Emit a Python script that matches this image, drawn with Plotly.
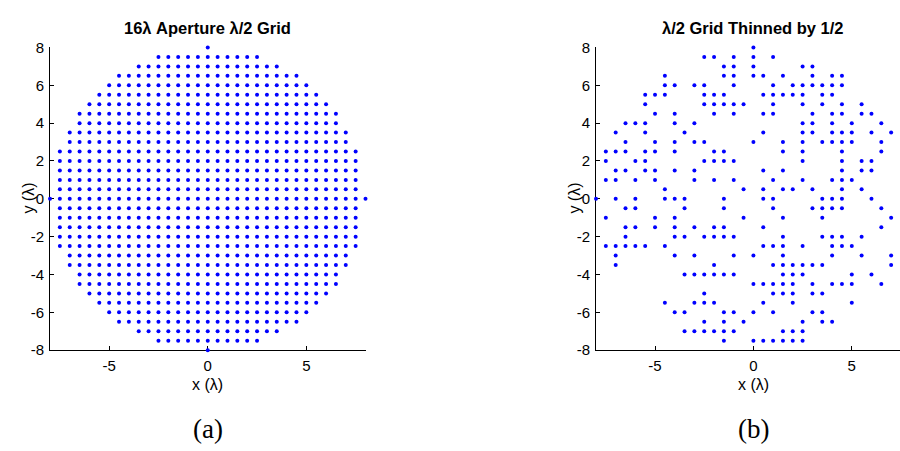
import plotly.graph_objects as go

# ---- (a) full lambda/2 grid inside a 16-lambda aperture ----
# each row of the grid: its y position and the half-width (largest |x|) of the row
grid_rows_y = [8, 7.5, 7, 6.5, 6, 5.5, 5, 4.5, 4, 3.5, 3, 2.5, 2, 1.5, 1, 0.5, 0,
               -0.5, -1, -1.5, -2, -2.5, -3, -3.5, -4, -4.5, -5, -5.5, -6, -6.5, -7, -7.5, -8]
grid_half_width = [0, 2.5, 3.5, 4.5, 5, 5.5, 6, 6.5, 6.5, 7, 7, 7.5, 7.5, 7.5, 7.5, 7.5, 8,
                   7.5, 7.5, 7.5, 7.5, 7.5, 7, 7, 6.5, 6.5, 6, 5.5, 5, 4.5, 3.5, 2.5, 0]
grid_pitch = 0.5

# ---- (b) the same grid thinned by one half: surviving elements per row ----
thin_rows_y = [8, 7.5, 7, 6.5, 6, 5.5, 5, 4.5, 4, 3.5, 3, 2.5, 2, 1.5, 1, 0.5, 0,
               -0.5, -1, -1.5, -2, -2.5, -3, -3.5, -4, -4.5, -5, -5.5, -6, -6.5, -7, -7.5]
thin_rows_x = [
    [0],
    [-2.5, -2, -1, 0, 1],
    [-1.5, -1, 0, 2.5, 3],
    [-4.5, -1.5, -1, 0, 0.5, 1.5, 3, 4, 4.5],
    [-4.5, -4, -3, -2.5, -1, 1, 2, 2.5, 3, 3.5, 4, 4.5],
    [-5.5, -5, -4.5, -2.5, -2, -1.5, 0.5, 1, 1.5, 2, 2.5, 3.5, 4],
    [-5.5, -2.5, -2, -1.5, -1, -0.5, 1, 2.5, 3.5, 4.5, 5.5],
    [-5, -4, -2, -1, 0.5, 1, 3, 4, 4.5, 5.5, 6],
    [-6.5, -6, -5.5, -4, -3, 2.5, 3, 4, 5, 6.5],
    [-7, -5.5, -3.5, 0.5, 2.5, 3, 4, 4.5, 5, 6, 7],
    [-6.5, -5, -4, -3, -2.5, 0, 1.5, 2.5, 3.5, 4, 4.5, 5, 6.5],
    [-7.5, -7, -6.5, -5.5, -5, -4, -2, -1.5, 1.5, 2.5, 4.5, 6.5],
    [-7.5, -6, -5.5, -2.5, -2, -1.5, -1, 2.5, 4.5, 5.5, 6, 7.5],
    [-7, -6.5, -5.5, -5, -4, -3, 0.5, 1.5, 4.5, 5.5, 6, 7.5],
    [-7.5, -7, -6, -5, -3, -2, -1, 1, 2.5, 4, 4.5, 5],
    [-4.5, -0.5, 0.5, 1.5, 2, 3, 4.5, 5.5],
    [-8, -7, -6, -4.5, -4, -3.5, -1.5, 0.5, 1, 3.5, 4, 4.5, 6],
    [-6.5, -6, -3.5, -1.5, 1, 3, 3.5, 4, 4.5, 6.5, 7.5],
    [-7.5, -5, -4, -0.5, 1.5, 3.5, 7, 7.5],
    [-6.5, -6, -5, -4, -3, -2, -1.5, 0.5, 6.5],
    [-6.5, -4, -3.5, -2.5, -2, -1.5, -1, 1.5, 3.5, 4, 4.5, 5.5, 7.5],
    [-7.5, -7, -6.5, -6, -5.5, -4.5, 0.5, 1, 1.5, 2.5, 4, 4.5, 5, 7.5],
    [-7, -4, -3, -1, 0, 1.5, 4, 5.5, 7],
    [-7, -2, 1, 1.5, 2, 2.5, 3, 3.5, 7],
    [-3.5, -3, -2.5, -2, -1.5, -1, 1.5, 2, 2.5, 5, 6],
    [0, 0.5, 1, 1.5, 2, 3, 4, 4.5, 5, 6.5],
    [-2.5, 1, 1.5, 2, 3, 3.5],
    [-4.5, -3, -2.5, -2, 0.5, 2, 5],
    [-4, -3.5, -1.5, -1, 0, 1, 3, 3.5],
    [-2.5, -1.5, -0.5, 2.5, 3.5, 4],
    [-3.5, -3, -2.5, -2, -1.5, -1, 1.5, 2, 2.5],
    [-1.5, 0, 0.5, 1, 1.5, 2, 2.5],
]

y_tick_vals = [-8, -6, -4, -2, 0, 2, 4, 6, 8]
x_tick_vals = [-5, 0, 5]

# expand the full grid rows into element positions
full_x, full_y = [], []
for yv, hw in zip(grid_rows_y, grid_half_width):
    n = int(round(2 * hw / grid_pitch)) + 1
    for i in range(n):
        full_x.append(-hw + i * grid_pitch)
        full_y.append(yv)

thin_x, thin_y = [], []
for yv, xs in zip(thin_rows_y, thin_rows_x):
    for xv in xs:
        thin_x.append(xv)
        thin_y.append(yv)

W, H = 900, 451
BLUE = "#0000FF"
FONT = "Liberation Sans"
SERIF = "Liberation Serif"

fig = go.Figure()
fig.add_trace(go.Scatter(x=full_x, y=full_y, mode="markers", xaxis="x", yaxis="y",
                         marker=dict(symbol="circle", size=4, color=BLUE, line=dict(width=0)),
                         cliponaxis=False, showlegend=False, hoverinfo="x+y"))
fig.add_trace(go.Scatter(x=thin_x, y=thin_y, mode="markers", xaxis="x2", yaxis="y2",
                         marker=dict(symbol="circle", size=4, color=BLUE, line=dict(width=0)),
                         cliponaxis=False, showlegend=False, hoverinfo="x+y"))

def px_x(p):
    return p / W

def px_y(p):
    return 1 - p / H

axis_common = dict(showgrid=False, zeroline=False, showline=True, linecolor="black",
                   linewidth=1, ticks="inside", ticklen=4, tickcolor="black",
                   tickfont=dict(family=FONT, size=15, color="black"),
                   layer="below traces", fixedrange=True)

def tick_text(vals):
    return [str(v) for v in vals]

y_dom = [px_y(354.5), px_y(40)]
fig.update_layout(
    width=W, height=H,
    margin=dict(l=0, r=0, t=0, b=0),
    paper_bgcolor="white", plot_bgcolor="white",
    xaxis=dict(domain=[px_x(50), px_x(365.5)], range=[-8, 8], anchor="y",
               tickvals=x_tick_vals, ticktext=tick_text(x_tick_vals), ticklabelstandoff=2,
               **axis_common),
    yaxis=dict(domain=y_dom, range=[-8, 8], anchor="x",
               tickvals=y_tick_vals, ticktext=tick_text(y_tick_vals), ticklabelstandoff=2,
               **axis_common),
    xaxis2=dict(domain=[px_x(596), 1.0], range=[-8, 7.45], anchor="y2",
                tickvals=x_tick_vals, ticktext=tick_text(x_tick_vals), ticklabelstandoff=2,
                **axis_common),
    yaxis2=dict(domain=y_dom, range=[-8, 8], anchor="x2",
                tickvals=y_tick_vals, ticktext=tick_text(y_tick_vals), ticklabelstandoff=2,
                **axis_common),
)

def label(text, x, y, size=16, family=FONT, angle=0):
    fig.add_annotation(text=text, x=px_x(x), y=px_y(y), xref="paper", yref="paper",
                       showarrow=False, xanchor="center", yanchor="middle",
                       textangle=angle, font=dict(family=family, size=size, color="black"))

label("<b>16λ Aperture λ/2 Grid</b>", 207.5, 20, size=16.5)
label("<b>λ/2 Grid Thinned by 1/2</b>", 753, 20, size=16.5)
label("y (λ)", 29, 197, angle=-90)
label("y (λ)", 575, 197, angle=-90)
label("x (λ)", 207.5, 390)
label("x (λ)", 753, 390)
label("(a)", 207.5, 436, size=27, family=SERIF)
label("(b)", 753, 436, size=27, family=SERIF)

fig.write_html("out.html")
